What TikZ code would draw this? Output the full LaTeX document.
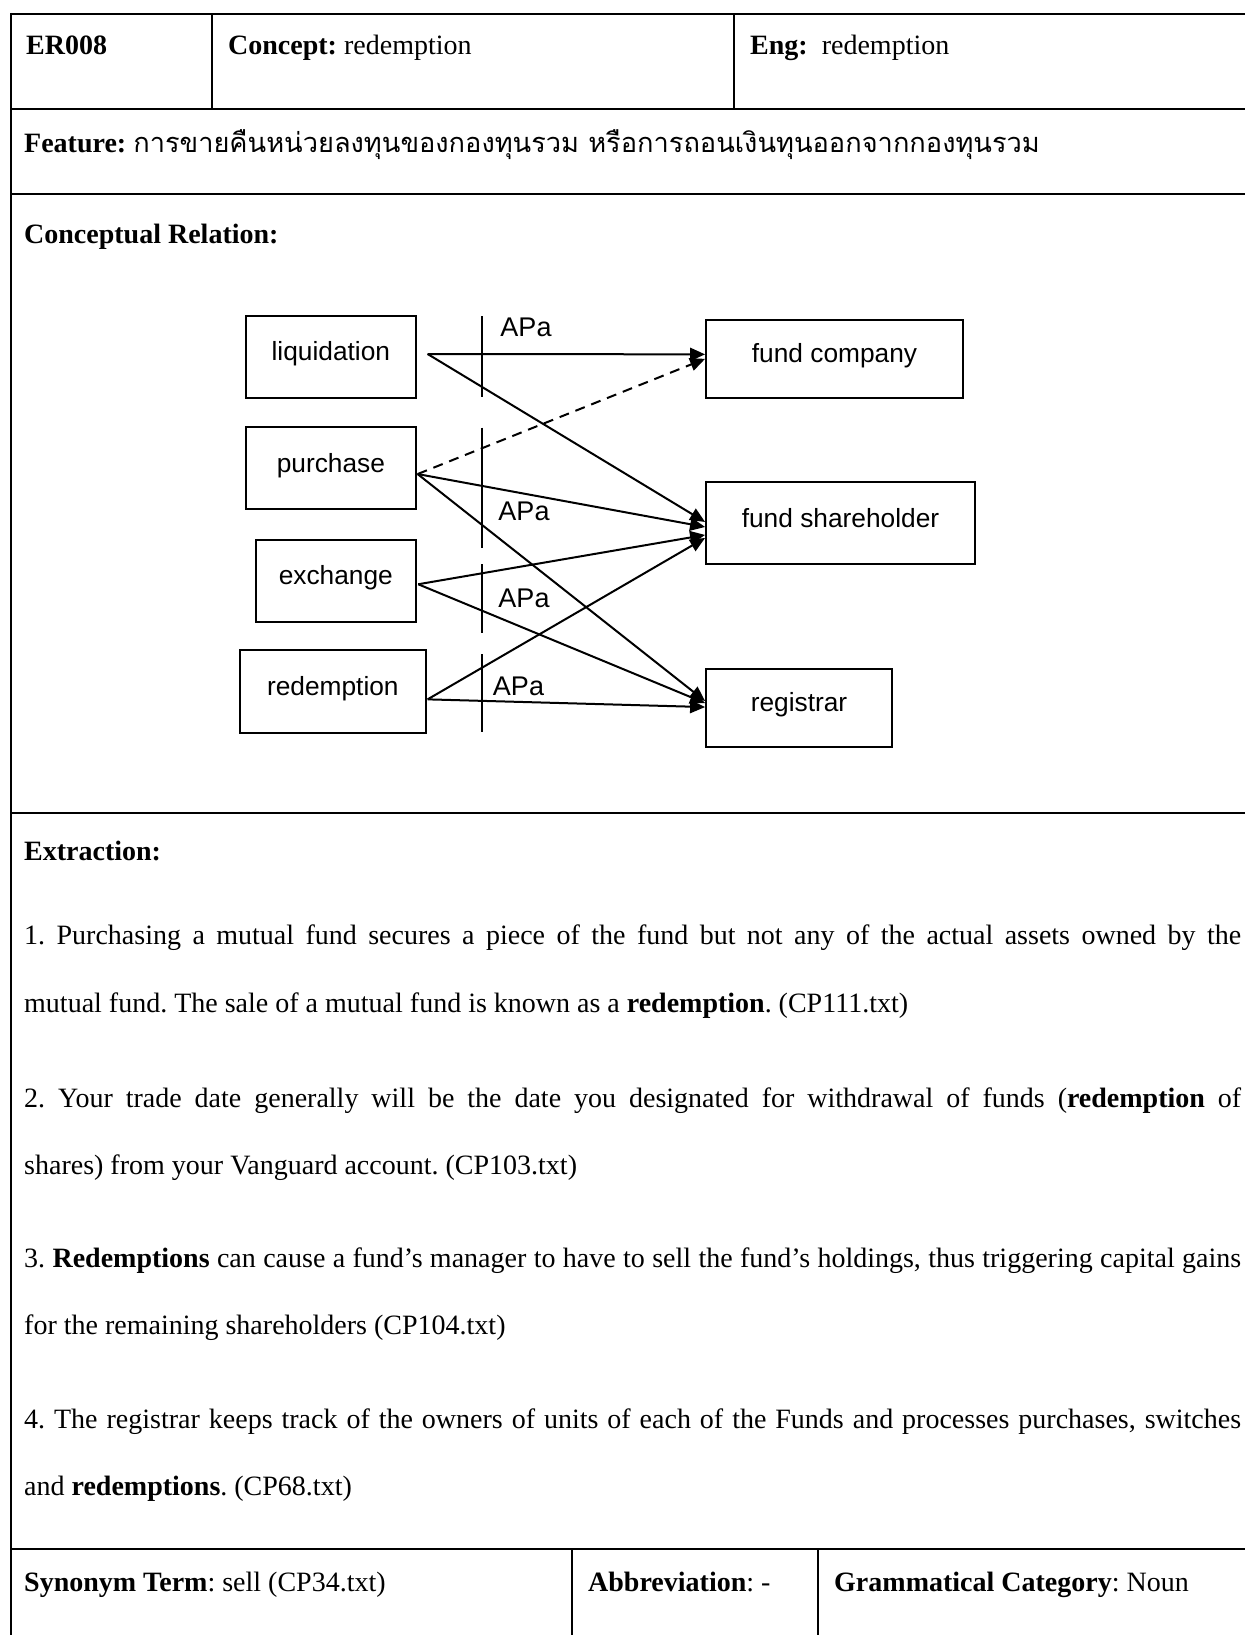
\documentclass[tikz,border=0pt]{standalone}
\usepackage{fontspec}
\setmainfont{Liberation Serif}
\newfontfamily\thaifont[Script=Thai]{Loma}
\newfontfamily\diagfont{Liberation Sans}
\usetikzlibrary{arrows.meta}
\frenchspacing

\begin{document}
\begin{tikzpicture}[x=1pt,y=-1pt,
  rule/.style={line width=2pt},
  txt/.style={anchor=base west, inner sep=0pt, font=\fontsize{28}{34}\selectfont},
  concept/.style={draw, line width=1.8pt, inner sep=0pt,
    text height=0.8em, text depth=0pt,
    font=\diagfont\fontsize{26.3}{30}\selectfont},
  rel/.style={line width=2pt, -{Triangle[length=15pt,width=13pt]}},
  weak/.style={rel, dash pattern=on 10pt off 7pt},
  bar/.style={line width=1.6pt},
  apa/.style={inner sep=0pt, font=\diagfont\fontsize{27}{30}\selectfont}
]
\useasboundingbox (0,0) rectangle (1245,1635);

% ---- table rules ----
\draw[rule] (10.5,14) -- (1245,14);
\draw[rule] (10.5,109) -- (1245,109);
\draw[rule] (10.5,194) -- (1245,194);
\draw[rule] (10.5,813) -- (1245,813);
\draw[rule] (10.5,1549) -- (1245,1549);
\draw[rule] (10.5,13) -- (10.5,1635);
\draw[rule] (212,14) -- (212,109);
\draw[rule] (734,14) -- (734,109);
\draw[rule] (572,1549) -- (572,1635);
\draw[rule] (818,1549) -- (818,1635);

% ---- header cells ----
\node[txt] (id) at (26,55) {\textbf{ER008}};
\node[txt] (concepthead) at (228,55) {\textbf{Concept:} redemption};
\node[txt] (enghead) at (750,55) {\textbf{Eng:}\ \ redemption};
\node[txt] (feature) at (24,152) {\textbf{Feature:} {\thaifont\fontsize{27.2}{32}\selectfont การขายคืนหน่วยลงทุนของกองทุนรวม หรือการถอนเงินทุนออกจากกองทุนรวม}};
\node[txt] (relhead) at (24,243) {\textbf{Conceptual Relation:}};

% ---- concept boxes ----
\node[concept, minimum width=170.3pt, minimum height=82pt] (liq) at (330.85,356.7) {liquidation};
\node[concept, minimum width=170.3pt, minimum height=82.3pt] (pur) at (330.85,468.15) {purchase};
\node[concept, minimum width=160.3pt, minimum height=82.3pt] (exc) at (335.85,580.85) {exchange};
\node[concept, minimum width=186.3pt, minimum height=82.7pt] (red) at (332.85,691.35) {redemption};
\node[concept, minimum width=257pt, minimum height=77.7pt] (fc) at (834.5,358.85) {fund company};
\node[concept, minimum width=269pt, minimum height=81.7pt] (fs) at (840.5,523.15) {fund shareholder};
\node[concept, minimum width=186pt, minimum height=77.7pt] (reg) at (799,707.85) {registrar};

% ---- connector ends ----
\coordinate (liqO) at ([xshift=10.7pt,yshift=2.7pt]liq.east);
\coordinate (purO) at ([xshift=0.7pt,yshift=-5.9pt]pur.east);
\coordinate (excO) at ([xshift=1.3pt,yshift=-3.4pt]exc.east);
\coordinate (redO) at ([xshift=0.7pt,yshift=-8pt]red.east);

\draw[rel] (liqO) -- ([yshift=4.5pt]fc.west);
\draw[weak] (purO) -- (fc.west);
\draw[rel] (liqO) -- ([yshift=1.2pt]fs.west);
\draw[rel] (purO) -- ([yshift=-3.8pt]fs.west);
\draw[rel] (excO) -- ([yshift=-11.8pt]fs.west);
\draw[rel] (redO) -- ([yshift=-14.8pt]fs.west);
\draw[rel] (purO) -- ([yshift=6.8pt]reg.west);
\draw[rel] (excO) -- ([yshift=4.8pt]reg.west);
\draw[rel] (redO) -- ([yshift=0.8pt]reg.west);

% ---- relation marks ----
\draw[bar] (482,316) -- (482,397);
\draw[bar] (482,427.7) -- (482,548);
\draw[bar] (482,564) -- (482,633);
\draw[bar] (482,654) -- (482,732);
\node[apa] (apa1) at (526,327.5) {APa};
\node[apa] (apa2) at (524,511) {APa};
\node[apa] (apa3) at (524,598) {APa};
\node[apa] (apa4) at (518.5,686) {APa};

% ---- extraction ----
\node[txt] (exhead) at (24,860) {\textbf{Extraction:}};
\node[txt] (p1a) at (24,944) {\makebox[1217pt][s]{1. Purchasing a mutual fund secures a piece of the fund but not any of the actual assets owned by the}};
\node[txt] (p1b) at (24,1012) {mutual fund. The sale of a mutual fund is known as a \textbf{redemption}. (CP111.txt)};
\node[txt] (p2a) at (24,1107) {\makebox[1217pt][s]{2. Your trade date generally will be the date you designated for withdrawal of funds (\textbf{redemption} of}};
\node[txt] (p2b) at (24,1174) {shares) from your Vanguard account. (CP103.txt)};
\node[txt] (p3a) at (24,1267) {\makebox[1217pt][s]{3. \textbf{Redemptions} can cause a fund's manager to have to sell the fund's holdings, thus triggering capital gains}};
\node[txt] (p3b) at (24,1334) {for the remaining shareholders (CP104.txt)};
\node[txt] (p4a) at (24,1428) {\makebox[1217pt][s]{4. The registrar keeps track of the owners of units of each of the Funds and processes purchases, switches}};
\node[txt] (p4b) at (24,1495) {and \textbf{redemptions}. (CP68.txt)};

% ---- footer cells ----
\node[txt] (syn) at (24,1591) {\textbf{Synonym Term}: sell (CP34.txt)};
\node[txt] (abbr) at (588,1591) {\textbf{Abbreviation}: -};
\node[txt] (gram) at (834,1591) {\textbf{Grammatical Category}: Noun};
\end{tikzpicture}
\end{document}
